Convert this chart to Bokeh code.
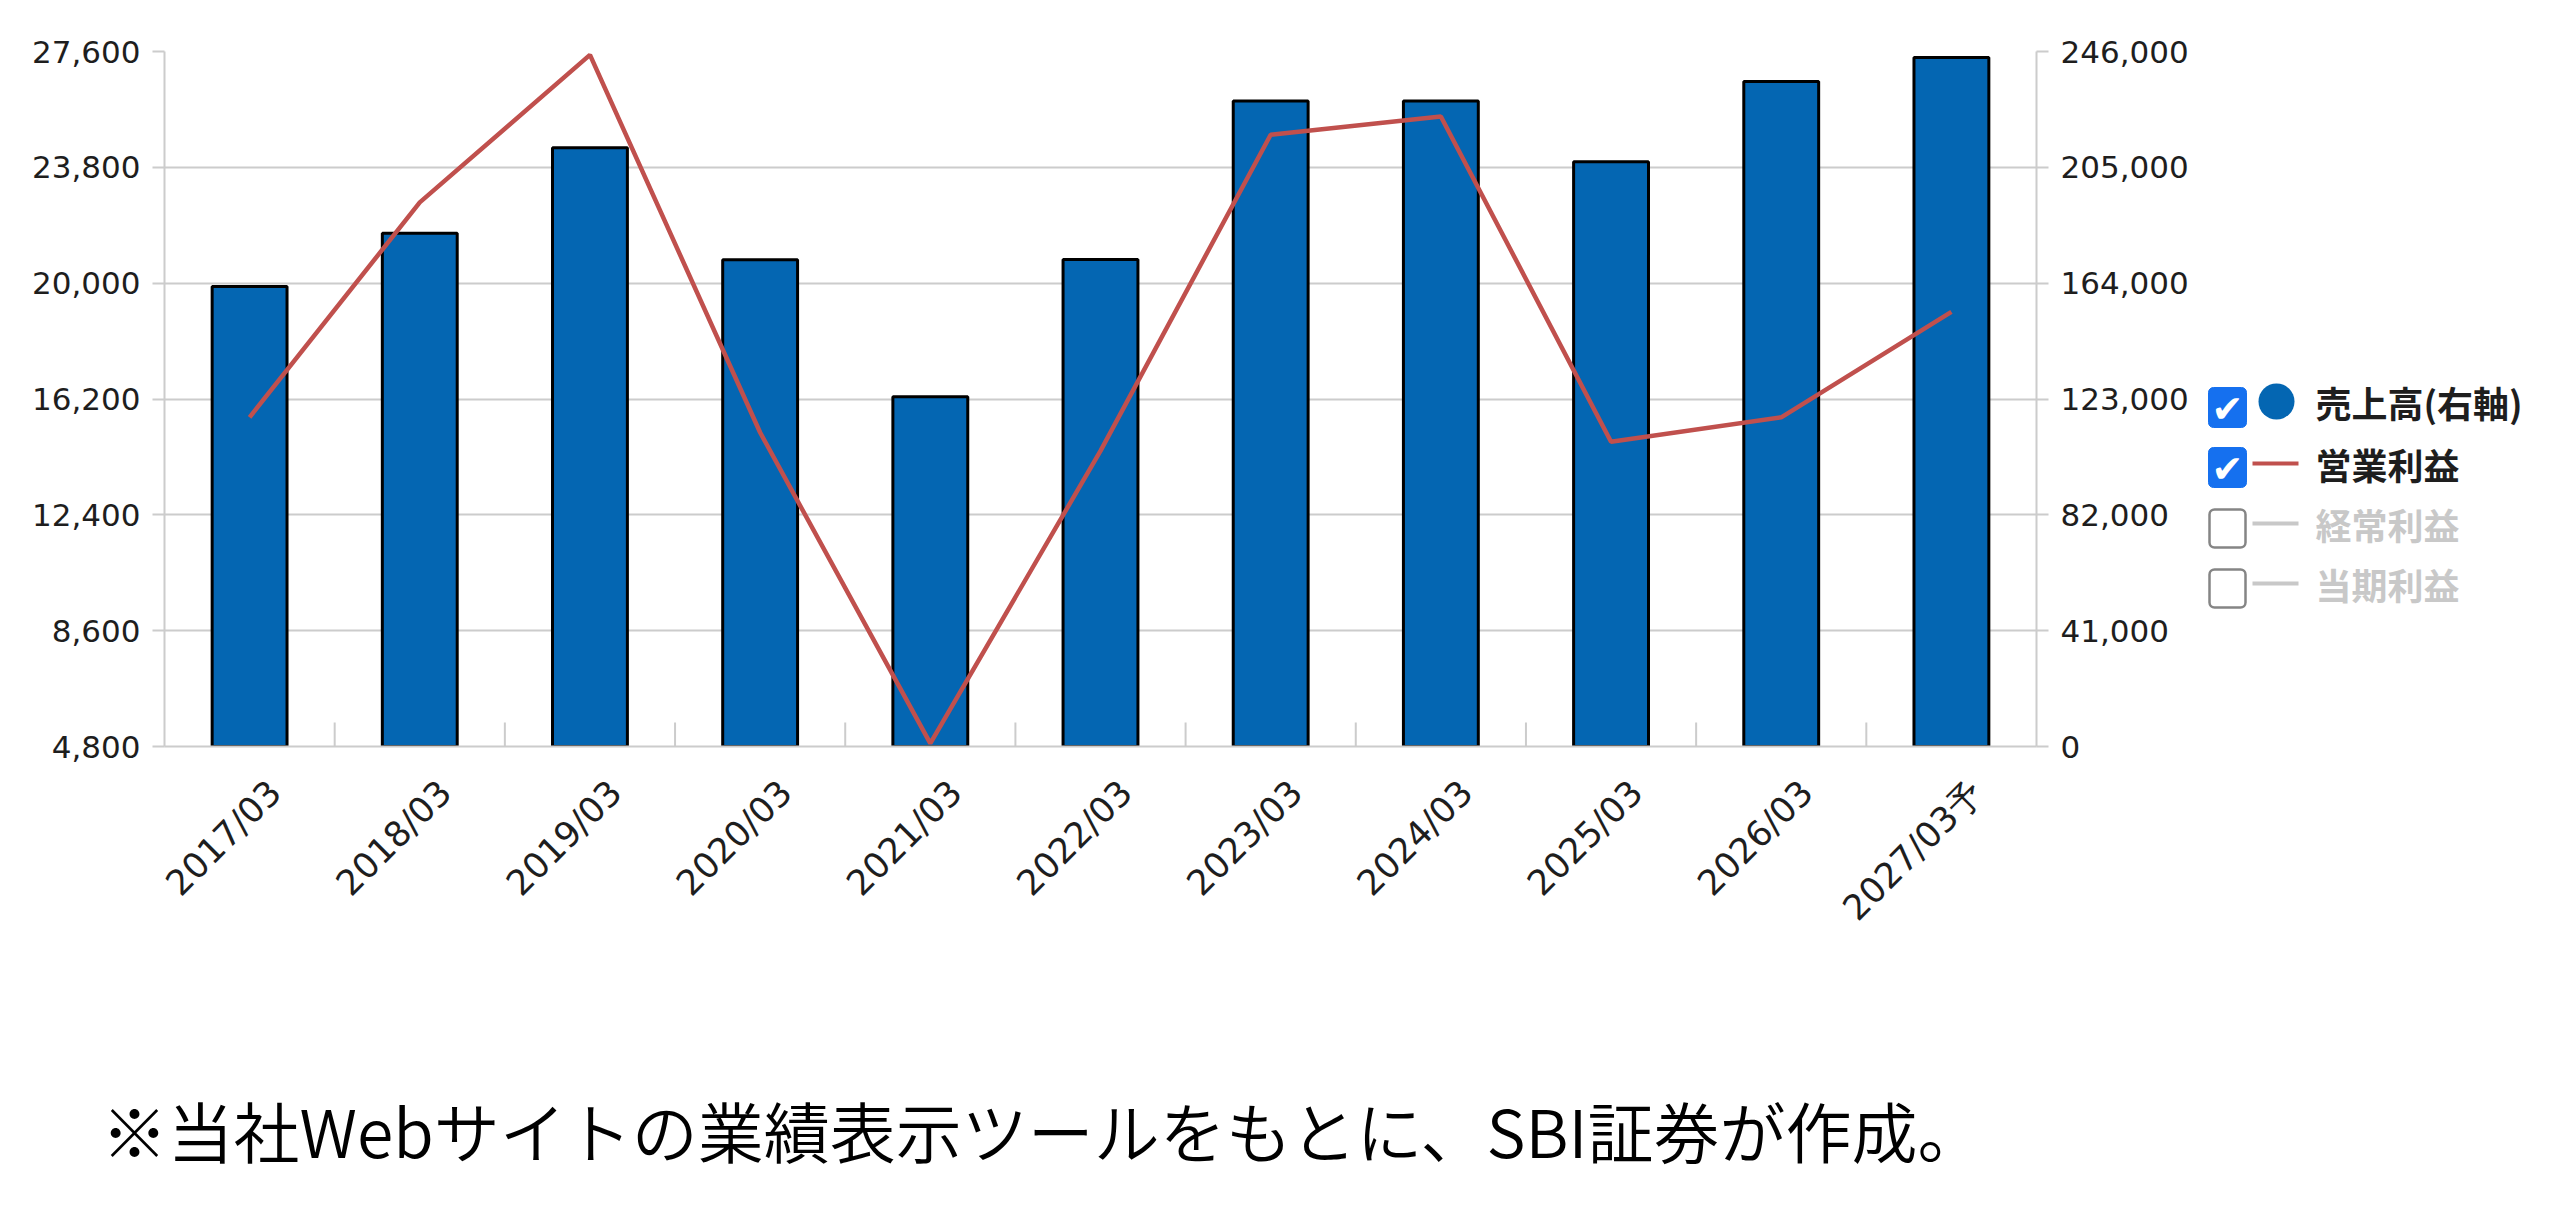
import math
from bokeh.plotting import figure
from bokeh.layouts import column, row
from bokeh.models import (Range1d, LinearAxis, FixedTicker, NumeralTickFormatter,
                          ColumnDataSource, BoxAnnotation)
from bokeh.core.properties import value
from bokeh.embed import file_html
from bokeh.resources import INLINE

# ---- data ----
categories = ["2017/03", "2018/03", "2019/03", "2020/03", "2021/03", "2022/03",
              "2023/03", "2024/03", "2025/03", "2026/03", "2027/03予"]
sales = [162800, 181700, 211900, 172300, 123800, 172400,
         228500, 228500, 207000, 235400, 243900]          # 売上高(右軸)
op_profit = [15600, 22650, 27490, 15100, 4900, 14500,
             24870, 25470, 14800, 15600, 19060]           # 営業利益 (左軸)
left_ticks = [4800, 8600, 12400, 16200, 20000, 23800, 27600]
right_ticks = [0, 41000, 82000, 123000, 164000, 205000, 246000]
legend_labels = ["売上高(右軸)", "営業利益", "経常利益", "当期利益"]
legend_active = [True, True, False, False]
footnote = "※当社Webサイトの業績表示ツールをもとに、SBI証券が作成。"

# ---- style / layout ----
W, H = 2560, 1209
MAIN_W, MAIN_H = 2200, 960
FL, FR, FT, FB = 164, 2036, 51, 746
BAR_COLOR = "#0466b2"
LINE_COLOR = "#c0504d"
GRID = "#cccccc"
TXT = "#1e1e1e"
GREY_TXT = "#c8c8c8"
BAND = 100            # x units per category
LABEL_SHIFT = 15      # rotated labels sit a little right of the bar centre

n = len(categories)
xpos = [BAND * i + BAND / 2 for i in range(n)]

p = figure(width=MAIN_W, height=MAIN_H,
           x_range=Range1d(0, BAND * n),
           y_range=Range1d(left_ticks[0], left_ticks[-1]),
           output_backend="svg", toolbar_location=None,
           min_border_left=FL, min_border_right=MAIN_W - FR,
           min_border_top=FT, min_border_bottom=MAIN_H - FB)
p.extra_y_ranges = {"sales": Range1d(right_ticks[0], right_ticks[-1])}
p.outline_line_color = None

src = ColumnDataSource(dict(x=xpos, cat=categories, sales=sales, op=op_profit))
p.vbar(x="x", top="sales", bottom=right_ticks[0], width=BAND * 0.44, source=src,
       y_range_name="sales", fill_color=BAR_COLOR, line_color="black", line_width=3)

# category separators (small ticks at band boundaries)
tick_len = (left_ticks[-1] - left_ticks[0]) * 24 / (FB - FT)
sep_x = [BAND * i for i in range(1, n)]
p.segment(x0=sep_x, x1=sep_x, y0=[left_ticks[0]] * len(sep_x),
          y1=[left_ticks[0] + tick_len] * len(sep_x), line_color=GRID, line_width=2)

p.line(x="x", y="op", source=src, line_color=LINE_COLOR, line_width=4.5)

def style_y(ax, ticks):
    ax.ticker = FixedTicker(ticks=ticks)
    ax.formatter = NumeralTickFormatter(format="0,0")
    ax.axis_line_color = GRID
    ax.axis_line_width = 2
    ax.major_tick_line_color = GRID
    ax.major_tick_line_width = 2
    ax.major_tick_in = 0
    ax.major_tick_out = 12
    ax.minor_tick_line_color = None
    ax.major_label_standoff = 12
    ax.major_label_text_font = "DejaVu Sans"
    ax.major_label_text_font_size = "31px"
    ax.major_label_text_color = TXT

style_y(p.yaxis[0], left_ticks)
raxis = LinearAxis(y_range_name="sales")
style_y(raxis, right_ticks)
p.add_layout(raxis, "right")

label_ticks = [BAND * i + BAND // 2 + LABEL_SHIFT for i in range(n)]
xa = p.xaxis[0]
xa.ticker = FixedTicker(ticks=label_ticks)
xa.major_label_overrides = {t: c for t, c in zip(label_ticks, categories)}
xa.axis_line_color = GRID
xa.axis_line_width = 2
xa.major_tick_line_color = None
xa.minor_tick_line_color = None
xa.major_label_orientation = math.pi / 4
xa.major_label_standoff = 34
xa.major_label_text_font = "DejaVu Sans"
xa.major_label_text_font_size = "35px"
xa.major_label_text_color = TXT

p.xgrid.grid_line_color = None
p.ygrid.grid_line_color = GRID
p.ygrid.grid_line_width = 2

# ---- legend figure (to the right of the chart); frame aligned with the chart frame ----
LEG_W = W - MAIN_W
leg = figure(width=LEG_W, height=MAIN_H, x_range=Range1d(0, LEG_W),
             y_range=Range1d(MAIN_H - FB, MAIN_H - FT),
             output_backend="svg", toolbar_location=None,
             min_border_left=0, min_border_right=0,
             min_border_top=FT, min_border_bottom=MAIN_H - FB, outline_line_color=None)
leg.axis.visible = False
leg.grid.visible = False

def ly(canvas_y):
    return MAIN_H - canvas_y

def lx(canvas_x):
    return canvas_x - MAIN_W

cb_y = [407, 467, 528, 588]
item_y = [401, 463, 523, 583]

chk_x, chk_y, line_x0, line_x1, line_y, line_c = [], [], [], [], [], []
txt_x, txt_y, txt_c = [], [], []
for i, (lab, act) in enumerate(zip(legend_labels, legend_active)):
    cy = cb_y[i]
    if act:
        leg.add_layout(BoxAnnotation(left=lx(2208), right=lx(2246), top=ly(cy - 20), bottom=ly(cy + 20),
                                     fill_color="#1570ef", fill_alpha=1, line_color="#1570ef",
                                     line_alpha=1, line_width=1, border_radius=5, level="underlay"))
        chk_x.append(lx(2227)); chk_y.append(ly(cy + 1))
    else:
        leg.add_layout(BoxAnnotation(left=lx(2209), right=lx(2245), top=ly(cy - 19), bottom=ly(cy + 19),
                                     fill_color="white", fill_alpha=1, line_color="#858585",
                                     line_alpha=1, line_width=2.5, border_radius=5, level="underlay"))
    iy = item_y[i]
    if i > 0:
        line_x0.append(lx(2252)); line_x1.append(lx(2298)); line_y.append(ly(iy))
        line_c.append(LINE_COLOR if act else GREY_TXT)
    txt_x.append(lx(2315)); txt_y.append(ly(iy)); txt_c.append(TXT if act else GREY_TXT)

leg.scatter(x=[lx(2276)], y=[ly(item_y[0])], size=36, marker="circle",
            fill_color=BAR_COLOR, line_color=None)
leg.segment(x0=line_x0, x1=line_x1, y0=line_y, y1=line_y, line_color=line_c, line_width=4)
leg.text(x=chk_x, y=chk_y, text=["✔"] * len(chk_x), text_color="white",
         text_align="center", text_baseline="middle", text_font=value("DejaVu Sans"),
         text_font_size=value("38px"))
leg.text(x=txt_x, y=txt_y, text=legend_labels, text_color=txt_c,
         text_align="left", text_baseline="middle", text_font=value("Noto Sans CJK JP"),
         text_font_style="bold", text_font_size=value("36px"))

# ---- footnote figure ----
FOOT_H = H - MAIN_H
foot = figure(width=W, height=FOOT_H, x_range=Range1d(0, W), y_range=Range1d(0, FOOT_H),
              output_backend="svg", toolbar_location=None,
              min_border=0, outline_line_color=None)
foot.axis.visible = False
foot.grid.visible = False
foot.text(x=[101], y=[FOOT_H - (1128 - MAIN_H)], text=[footnote], text_color="black",
          text_align="left", text_baseline="middle",
          text_font=value("'Noto Sans CJK JP DemiLight', 'Noto Sans CJK JP'"),
          text_font_size=value("66px"))

layout = column(row(p, leg), foot)
open("out.html", "w").write(file_html(layout, INLINE))
